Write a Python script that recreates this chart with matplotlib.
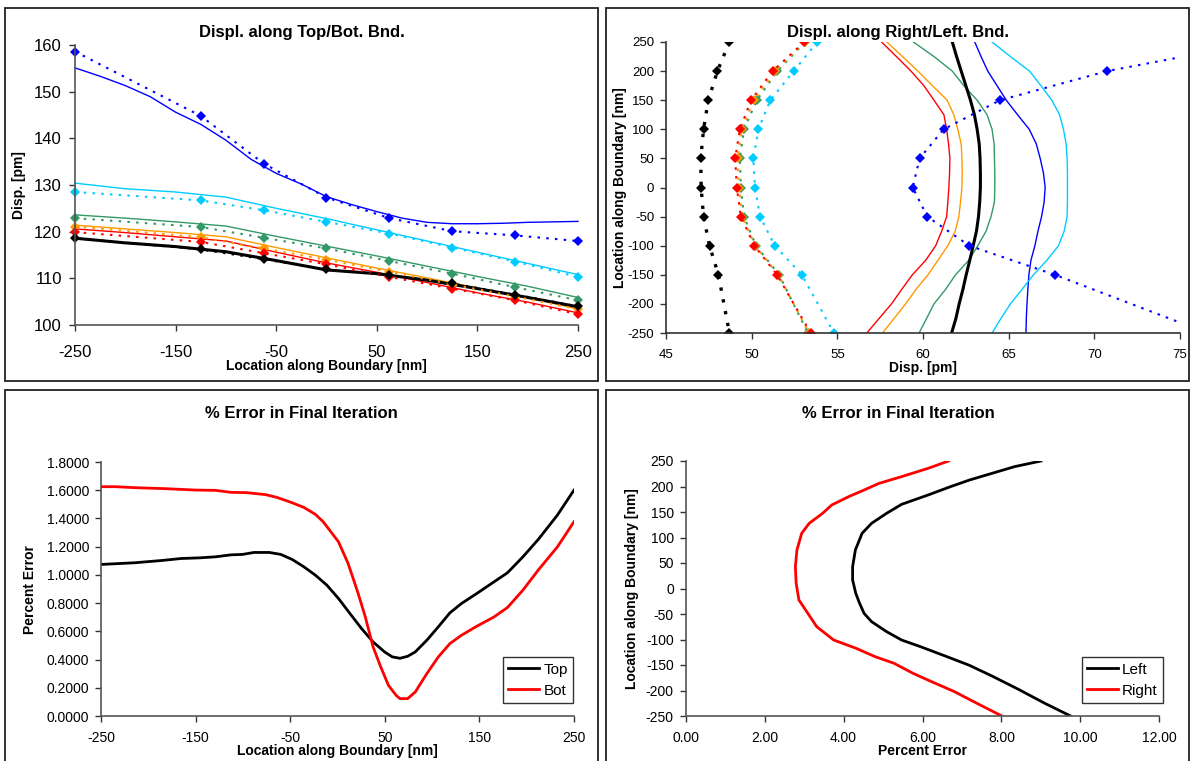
import matplotlib
matplotlib.use("Agg")
import matplotlib.pyplot as plt
from matplotlib.patches import Rectangle
from matplotlib.ticker import FormatStrFormatter, MultipleLocator

plt.rcParams["font.family"] = ["Liberation Sans", "DejaVu Sans"]
plt.rcParams["axes.unicode_minus"] = False

# ---------------- data: displacement along top/bottom boundary ----------------
tb_mark_x = [-250, -125, -62.5, 0, 62.5, 125, 187.5, 250]
tb_blue_pts = [158.6, 144.8, 134.6, 127.3, 122.9, 120.1, 119.2, 118.0]
tb_cyan_pts = [128.5, 126.7, 124.6, 122.1, 119.6, 116.6, 113.6, 110.3]
tb_green_pts = [122.9, 121.0, 118.7, 116.4, 113.7, 111.0, 108.1, 105.3]
tb_orange_pts = [121.1, 118.8, 116.4, 114.0, 111.4, 108.7, 106.1, 103.4]
tb_red_pts = [119.9, 117.8, 115.4, 113.0, 110.3, 107.8, 105.3, 102.3]
tb_black_pts = [118.6, 116.2, 114.1, 111.9, 110.7, 108.9, 106.5, 104.0]

tb_fine_x = [-250, -225, -200, -175, -150, -125, -100, -75, -50, -25, 0,
             25, 50, 75, 100, 125, 150, 175, 200, 225, 250]
tb_blue_line = [155.1, 153.3, 151.3, 148.9, 145.6, 143.0, 139.6, 135.5, 132.5,
                130.2, 127.5, 125.8, 124.3, 122.9, 122.0, 121.7, 121.7, 121.8,
                122.0, 122.1, 122.2]

tb_line_x = [-250, -200, -150, -100, -50, 0, 50, 100, 150, 200, 250]
tb_cyan_line = [130.4, 129.2, 128.5, 127.4, 125.0, 122.8, 120.4, 118.0, 115.6, 113.2, 110.8]
tb_green_line = [123.6, 122.9, 122.1, 121.2, 119.0, 116.9, 114.8, 112.6, 110.4, 108.3, 105.9]
tb_orange_line = [121.4, 120.6, 119.8, 118.9, 116.6, 114.4, 112.2, 110.1, 107.9, 105.9, 103.4]
tb_red_line = [120.6, 119.8, 118.9, 118.0, 115.6, 113.3, 111.3, 109.1, 106.9, 104.9, 102.6]
tb_black_line = [118.6, 117.6, 116.8, 115.7, 113.8, 111.8, 111.0, 109.6, 107.8, 105.9, 103.9]

# ---------------- data: displacement along right/left boundary ----------------
rl_mark_y = [250, 200, 150, 100, 50, 0, -50, -100, -150, -250]
rl_blue_pts = [79.7, 70.75, 64.5, 61.2, 59.8, 59.4, 60.25, 62.7, 67.7, 76.6]
rl_cyan_pts = [53.83, 52.45, 51.09, 50.39, 50.10, 50.19, 50.49, 51.35, 52.93, 54.80]
rl_green_pts = [53.12, 51.50, 50.30, 49.55, 49.31, 49.37, 49.55, 50.25, 51.60, 53.28]
rl_orange_pts = [53.10, 51.38, 50.12, 49.42, 49.18, 49.25, 49.45, 50.20, 51.55, 53.35]
rl_red_pts = [53.07, 51.22, 49.97, 49.31, 49.04, 49.13, 49.37, 50.16, 51.48, 53.44]
rl_black_pts = [48.70, 48.00, 47.47, 47.19, 47.03, 47.05, 47.19, 47.54, 48.06, 48.70]

rl_line_y = [250, 225, 200, 175, 150, 125, 100, 75, 50, 25, 0,
             -25, -50, -75, -100, -125, -150, -175, -200, -225, -250]
rl_red_line = [57.58, 58.45, 59.30, 60.05, 60.64, 61.22, 61.38, 61.49, 61.57, 61.55, 61.51,
               61.45, 61.38, 61.09, 60.74, 60.16, 59.38, 58.76, 58.16, 57.44, 56.72]
rl_orange_line = [57.89, 58.80, 59.70, 60.55, 61.41, 61.80, 62.03, 62.23, 62.27, 62.29, 62.27,
                  62.19, 62.09, 61.88, 61.45, 60.87, 60.29, 59.59, 58.99, 58.31, 57.64]
rl_green_line = [59.44, 60.64, 61.71, 62.38, 63.16, 63.74, 64.03, 64.15, 64.17, 64.19, 64.19,
                 64.17, 63.97, 63.68, 63.20, 62.67, 61.90, 61.32, 60.64, 60.21, 59.77]
rl_black_line = [61.71, 61.96, 62.23, 62.50, 62.77, 63.00, 63.16, 63.28, 63.33, 63.35, 63.35,
                 63.31, 63.24, 63.12, 62.93, 62.73, 62.52, 62.33, 62.11, 61.92, 61.67]
rl_blue_line = [63.02, 63.39, 63.78, 64.32, 64.86, 65.52, 66.20, 66.61, 66.84, 67.03, 67.13,
                67.07, 66.92, 66.71, 66.53, 66.30, 66.18, 66.12, 66.07, 66.03, 66.01]
rl_cyan_line = [64.03, 65.10, 66.22, 66.88, 67.52, 67.97, 68.20, 68.35, 68.41, 68.43, 68.43,
                68.43, 68.41, 68.24, 67.91, 67.23, 66.45, 65.78, 65.10, 64.55, 64.03]

# ---------------- data: % error, top/bottom boundary ----------------
err_top_x = [-250, -214.3, -185.8, -165.5, -145.2, -129.0, -112.7, -100.5, -88.3, -72.1,
             -59.9, -47.8, -35.5, -23.4, -11.2, 1.0, 13.2, 25.4, 37.6, 49.8, 57.9, 66.0,
             74.1, 82.2, 94.4, 106.6, 118.8, 131.0, 147.2, 165.5, 179.7, 196.0, 212.2,
             232.5, 250]
err_top = [1.074, 1.086, 1.102, 1.116, 1.121, 1.128, 1.142, 1.145, 1.159, 1.159,
           1.145, 1.109, 1.057, 0.998, 0.927, 0.833, 0.726, 0.620, 0.525, 0.454, 0.419, 0.409,
           0.423, 0.454, 0.537, 0.632, 0.731, 0.797, 0.868, 0.951, 1.015, 1.128, 1.251,
           1.424, 1.601]
err_bot_x = [-250, -234.6, -214.3, -181.8, -149.3, -129.0, -112.7, -96.5, -76.2, -64.0,
             -47.8, -35.5, -23.4, -15.2, -7.1, 1.0, 11.2, 21.3, 29.4, 37.6, 45.7, 53.8,
             61.9, 66.0, 74.1, 82.2, 94.4, 106.6, 118.8, 131.0, 147.2, 165.5, 179.7,
             196.0, 212.2, 232.5, 250]
err_bot = [1.625, 1.625, 1.618, 1.611, 1.601, 1.599, 1.585, 1.583, 1.569, 1.549,
           1.511, 1.478, 1.429, 1.377, 1.306, 1.235, 1.081, 0.880, 0.702, 0.490, 0.348, 0.218,
           0.147, 0.123, 0.123, 0.170, 0.300, 0.419, 0.513, 0.572, 0.636, 0.702, 0.769,
           0.892, 1.034, 1.199, 1.377]

# ---------------- data: % error, left/right boundary ----------------
err_left_y = [250, 238.9, 225.8, 212.7, 199.7, 183.3, 165.0, 147.4, 127.8, 108.2, 75.5,
              42.8, 16.7, -9.5, -27.8, -48.7, -65.0, -84.6, -101.0, -114.1, -133.7,
              -150.7, -171.6, -197.7, -225.2, -250]
err_left = [9.00, 8.33, 7.76, 7.19, 6.71, 6.14, 5.47, 5.09, 4.71, 4.47, 4.30,
            4.23, 4.23, 4.31, 4.40, 4.52, 4.71, 5.09, 5.47, 5.95, 6.62,
            7.19, 7.76, 8.43, 9.10, 9.75]
err_right_y = [250, 235.6, 219.3, 206.2, 193.1, 180.1, 163.7, 147.4, 127.8, 108.2, 75.5,
               42.8, 10.1, -22.5, -42.2, -74.8, -101.0, -117.3, -133.7, -146.7, -166.3,
               -182.7, -202.3, -225.2, -250]
err_right = [6.66, 6.14, 5.47, 4.90, 4.52, 4.13, 3.70, 3.47, 3.13, 2.94, 2.82,
             2.78, 2.80, 2.87, 3.04, 3.32, 3.75, 4.32, 4.80, 5.28, 5.76,
             6.23, 6.81, 7.38, 8.01]

BLUE = "#0000FF"
CYAN = "#00CCFF"
GREEN = "#339966"
ORANGE = "#FF9900"
RED = "#FF0000"
BLACK = "#000000"

W, H = 1191, 761
fig = plt.figure(figsize=(W / 100, H / 100), dpi=100)
fig.patch.set_facecolor("white")


def ax_at(left, top, right, bottom):
    return fig.add_axes([left / W, 1 - bottom / H, (right - left) / W, (bottom - top) / H])


def frame(x0, y0, x1, y1):
    fig.patches.append(Rectangle((x0 / W, 1 - y1 / H), (x1 - x0) / W, (y1 - y0) / H,
                                 transform=fig.transFigure, fill=False,
                                 edgecolor="#222222", linewidth=1.3, zorder=0))


def style(ax, tick_size, spine_color="#555555", xpad=7, ypad=5):
    for s in ("top", "right"):
        ax.spines[s].set_visible(False)
    for s in ("left", "bottom"):
        ax.spines[s].set_color(spine_color)
        ax.spines[s].set_linewidth(1.2)
    ax.tick_params(axis="both", direction="out", length=4.5, width=1.0,
                   color="#333333", labelsize=tick_size)
    ax.tick_params(axis="x", pad=xpad)
    ax.tick_params(axis="y", pad=ypad)
    ax.set_facecolor("white")


def labels(ax, xl, yl, xy, yx):
    ax.set_xlabel(xl, fontsize=10, fontweight="bold")
    ax.set_ylabel(yl, fontsize=10, fontweight="bold")
    ax.xaxis.set_label_coords(0.5, xy)
    ax.yaxis.set_label_coords(yx, 0.5)
    ax.xaxis.label.set_va("center")
    ax.yaxis.label.set_va("center")


# chart-area frames
frame(5, 8, 598, 381)
frame(606, 8, 1189, 381)
frame(5, 390, 598, 775)
frame(606, 390, 1189, 775)

DOT = (0, (1.2, 3.0))
MK = dict(marker="D", markersize=5.5, markeredgewidth=0)

# ---------------- top-left ----------------
ax1 = ax_at(75, 45, 578, 325)
ax1.plot(tb_fine_x, tb_blue_line, color=BLUE, lw=1.0)
ax1.plot(tb_line_x, tb_cyan_line, color=CYAN, lw=1.0)
ax1.plot(tb_line_x, tb_green_line, color=GREEN, lw=1.0)
ax1.plot(tb_line_x, tb_orange_line, color=ORANGE, lw=1.0)
ax1.plot(tb_line_x, tb_red_line, color=RED, lw=1.0)
ax1.plot(tb_line_x, tb_black_line, color=BLACK, lw=2.2)
for vals, c in ((tb_blue_pts, BLUE), (tb_cyan_pts, CYAN), (tb_green_pts, GREEN),
                (tb_orange_pts, ORANGE), (tb_red_pts, RED), (tb_black_pts, BLACK)):
    ax1.plot(tb_mark_x, vals, color=c, lw=1.5, ls=DOT, markerfacecolor=c, **MK)
ax1.set_xlim(-250, 250)
ax1.set_ylim(100, 160)
ax1.set_xticks([-250, -150, -50, 50, 150, 250])
ax1.yaxis.set_major_locator(MultipleLocator(10))
style(ax1, 12, xpad=10, ypad=5)
labels(ax1, "Location along Boundary [nm]", "Disp. [pm]", -0.148, -0.111)
for ln in ax1.lines:
    ln.set_clip_on(False)
fig.text(301.5 / W, 1 - 32 / H, "Displ. along Top/Bot. Bnd.", ha="center", va="center",
         fontsize=12, fontweight="bold")

# ---------------- top-right ----------------
ax2 = ax_at(666, 42, 1180, 333)
ax2.plot(rl_red_line, rl_line_y, color=RED, lw=1.0)
ax2.plot(rl_orange_line, rl_line_y, color=ORANGE, lw=1.0)
ax2.plot(rl_green_line, rl_line_y, color=GREEN, lw=1.0)
ax2.plot(rl_black_line, rl_line_y, color=BLACK, lw=2.2)
ax2.plot(rl_blue_line, rl_line_y, color=BLUE, lw=1.0)
ax2.plot(rl_cyan_line, rl_line_y, color=CYAN, lw=1.0)
for vals, c in ((rl_blue_pts, BLUE), (rl_cyan_pts, CYAN), (rl_green_pts, GREEN),
                (rl_orange_pts, ORANGE), (rl_red_pts, RED)):
    ax2.plot(vals, rl_mark_y, color=c, lw=1.5, ls=DOT, markerfacecolor=c, **MK)
ax2.plot(rl_black_pts, rl_mark_y, color=BLACK, lw=2.4, ls=(0, (1.0, 2.6)),
         markerfacecolor=BLACK, **MK)
ax2.set_xlim(45, 75)
ax2.set_ylim(-250, 250)
ax2.xaxis.set_major_locator(MultipleLocator(5))
ax2.yaxis.set_major_locator(MultipleLocator(50))
style(ax2, 9.5, spine_color="#333333", xpad=7, ypad=4)
labels(ax2, "Disp. [pm]", "Location along Boundary [nm]", -0.120, -0.090)
fig.text(898 / W, 1 - 32 / H, "Displ. along Right/Left. Bnd.", ha="center", va="center",
         fontsize=12, fontweight="bold", zorder=5)

# ---------------- bottom-left ----------------
ax3 = ax_at(101, 462, 574, 716)
ax3.plot(err_top_x, err_top, color=BLACK, lw=2.0, label="Top")
ax3.plot(err_bot_x, err_bot, color=RED, lw=2.0, label="Bot")
ax3.set_xlim(-250, 250)
ax3.set_ylim(0, 1.8)
ax3.set_xticks([-250, -150, -50, 50, 150, 250])
ax3.yaxis.set_major_locator(MultipleLocator(0.2))
ax3.yaxis.set_major_formatter(FormatStrFormatter("%.4f"))
style(ax3, 10, spine_color="#555555", xpad=6, ypad=4)
labels(ax3, "Location along Boundary [nm]", "Percent Error", -0.138, -0.150)
leg3 = ax3.legend(loc="lower right", bbox_to_anchor=(0.998, 0.051), borderaxespad=0,
                  fontsize=11, frameon=True, fancybox=False, edgecolor="black",
                  handlelength=2.0, handletextpad=0.3, labelspacing=0.45,
                  borderpad=0.35)
leg3.get_frame().set_linewidth(1.0)
fig.text(301.5 / W, 1 - 414 / H, "% Error in Final Iteration", ha="center", va="center",
         fontsize=12, fontweight="bold")

# ---------------- bottom-right ----------------
ax4 = ax_at(685.6, 461, 1159.4, 716)
ax4.plot(err_left, err_left_y, color=BLACK, lw=2.0, label="Left")
ax4.plot(err_right, err_right_y, color=RED, lw=2.0, label="Right")
ax4.set_xlim(0, 12)
ax4.set_ylim(-250, 250)
ax4.xaxis.set_major_locator(MultipleLocator(2))
ax4.xaxis.set_major_formatter(FormatStrFormatter("%.2f"))
ax4.yaxis.set_major_locator(MultipleLocator(50))
style(ax4, 10, spine_color="#555555", xpad=6, ypad=4)
labels(ax4, "Percent Error", "Location along Boundary [nm]", -0.137, -0.113)
leg4 = ax4.legend(loc="lower right", bbox_to_anchor=(1.008, 0.051), borderaxespad=0,
                  fontsize=11, frameon=True, fancybox=False, edgecolor="black",
                  handlelength=2.0, handletextpad=0.3, labelspacing=0.45,
                  borderpad=0.35)
leg4.get_frame().set_linewidth(1.0)
fig.text(898 / W, 1 - 414 / H, "% Error in Final Iteration", ha="center", va="center",
         fontsize=12, fontweight="bold")

fig.savefig("out.png", dpi=100, facecolor="white")
